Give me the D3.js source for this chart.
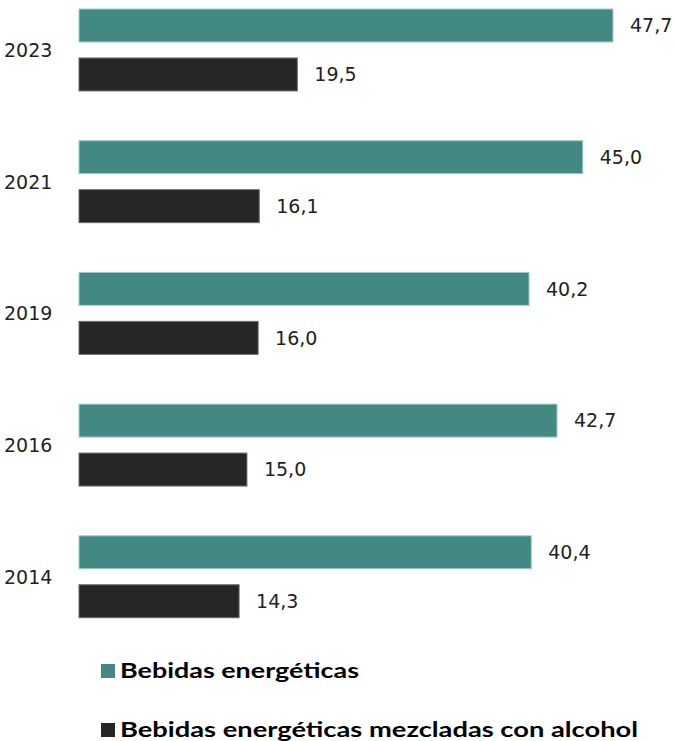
<!DOCTYPE html>
<html>
<head>
<meta charset="utf-8">
<title></title>
<script src="https://d3js.org/d3.v7.min.js"></script>
<style type="text/css">
  body { margin: 0; background: #fff; }
  text { fill: #1a1a1a; }
  .lbl { font-family: "DejaVu Sans", sans-serif; font-size: 19px; fill: #222; }
  .leg { font-family: "Lato", "Open Sans", sans-serif; font-size: 20px; font-weight: bold; fill: #000; }
</style>
</head>
<body>
<script type="text/javascript">

var years = ["2023", "2021", "2019", "2016", "2014"];
var series = ["Bebidas energéticas", "Bebidas energéticas mezcladas con alcohol"];
var energy = [47.7, 45.0, 40.2, 42.7, 40.4];
var mixed = [19.5, 16.1, 16.0, 15.0, 14.3];
var colors = ["#428883", "#262626"];
var strokes = ["#9fcfca", "#6b6b6b"];

var width = 675,
    height = 741;

var svg = d3.select('body').append('svg')
    .attr('width', width)
    .attr('height', height);

var x = d3.scaleLinear().domain([0, 50]).range([79, 79 + 50 * 11.195]);

var y0 = d3.scaleBand()
    .domain(years)
    .range([9, 617.75])
    .paddingInner(49.75 / 131.75)
    .paddingOuter(0);

var y1 = d3.scaleBand()
    .domain([0, 1])
    .range([0, y0.bandwidth()])
    .paddingInner(16 / 49);

var fmt = function(v) { return d3.format(".1f")(v).replace(".", ","); };

var data = years.map(function(yr, i) {
  return { year: yr, vals: [energy[i], mixed[i]] };
});

var g = svg.selectAll('.grp')
  .data(data)
  .enter().append('g')
    .attr('class', 'grp')
    .attr('transform', function(d) { return 'translate(0,' + y0(d.year) + ')'; });

g.selectAll('rect')
  .data(function(d) { return d.vals; })
  .enter().append('rect')
    .attr('x', x(0))
    .attr('y', function(d, i) { return y1(i); })
    .attr('width', function(d) { return x(d) - x(0); })
    .attr('height', y1.bandwidth())
    .attr('fill', function(d, i) { return colors[i]; })
    .attr('stroke', function(d, i) { return strokes[i]; })
    .attr('stroke-width', 1);

g.selectAll('.val')
  .data(function(d) { return d.vals; })
  .enter().append('text')
    .attr('class', 'lbl val')
    .attr('x', function(d) { return x(d) + 17; })
    .attr('y', function(d, i) { return y1(i) + y1.bandwidth() / 2; })
    .attr('dy', '0.36em')
    .text(fmt);

g.append('text')
  .attr('class', 'lbl')
  .attr('x', 4)
  .attr('y', y0.bandwidth() / 2)
  .attr('dy', '0.36em')
  .text(function(d) { return d.year; });

// legend
var leg = svg.selectAll('.legend')
  .data(series)
  .enter().append('g')
    .attr('class', 'legend')
    .attr('transform', function(d, i) { return 'translate(101,' + (671 + i * 59) + ')'; });

leg.append('rect')
  .attr('x', 0)
  .attr('y', -7)
  .attr('width', 14)
  .attr('height', 14)
  .attr('fill', function(d, i) { return colors[i]; });

leg.append('text')
  .attr('class', 'leg')
  .attr('x', 19)
  .attr('y', 0)
  .attr('dy', '0.35em')
  .attr('textLength', function(d, i) { return i === 0 ? 239 : 518; })
  .attr('lengthAdjust', 'spacingAndGlyphs')
  .text(function(d) { return d; });

</script>
</body>
</html>
